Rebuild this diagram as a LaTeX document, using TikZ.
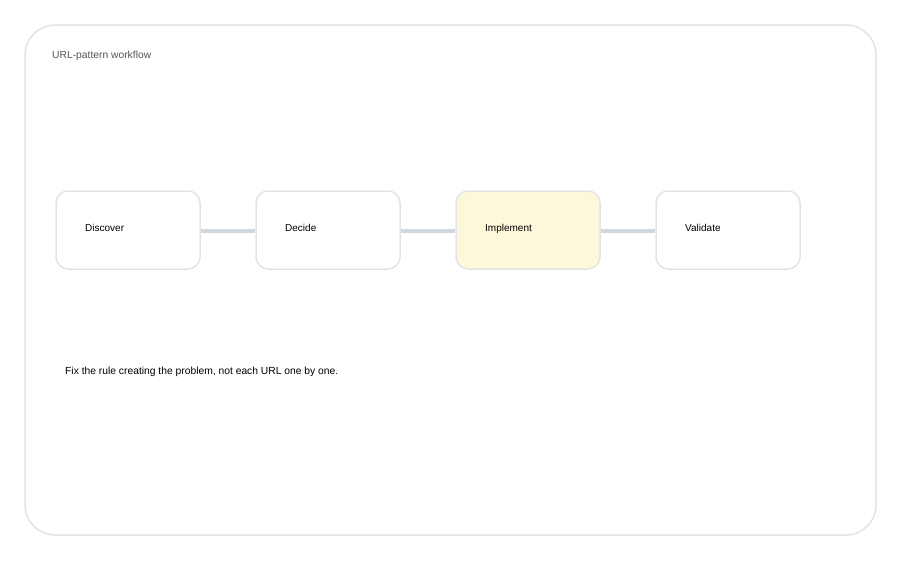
\documentclass[tikz,border=0pt]{standalone}
\usepackage{fontspec}
\setmainfont{Liberation Sans}
\definecolor{frameline}{HTML}{E2E4E6}
\definecolor{boxline}{HTML}{E2E5E8}
\definecolor{conn}{HTML}{CFD8E0}
\definecolor{hl}{HTML}{FEF8DA}
\definecolor{titlegray}{HTML}{555555}
\begin{document}
\begin{tikzpicture}[x=1pt,y=-1pt,
  stepbox/.style={draw=boxline, line width=1.5pt, rounded corners=12pt, fill=white,
    minimum width=144pt, minimum height=78pt, inner sep=0pt},
  steplabel/.style={anchor=base west, font=\fontsize{10}{12}\selectfont, text=black, inner sep=0pt},
  connector/.style={draw=conn, line width=4pt}]
\useasboundingbox (0,0) rectangle (900,560);
\fill[white] (0,0) rectangle (900,560);
\draw[frameline, line width=1.5pt, rounded corners=30pt] (25,25) rectangle (876,535);
\node[anchor=base west, inner sep=0pt, font=\fontsize{10.3}{12}\selectfont, text=titlegray] (title) at (52,58) {URL-pattern workflow};
\node[stepbox] (s1) at (128,230) {};
\node[stepbox] (s2) at (328,230) {};
\node[stepbox, fill=hl] (s3) at (528,230) {};
\node[stepbox] (s4) at (728,230) {};
\draw[connector] ([yshift=-1pt]s1.east) -- ([yshift=-1pt]s2.west);
\draw[connector] ([yshift=-1pt]s2.east) -- ([yshift=-1pt]s3.west);
\draw[connector] ([yshift=-1pt]s3.east) -- ([yshift=-1pt]s4.west);
\node[steplabel] (l1) at (85,231.8) {Discover};
\node[steplabel] (l2) at (285,231.8) {Decide};
\node[steplabel] (l3) at (485,231.8) {Implement};
\node[steplabel] (l4) at (685,231.8) {Validate};
\node[anchor=base west, inner sep=0pt, font=\fontsize{10.3}{12}\selectfont] (cap) at (65,374.8) {Fix the rule creating the problem, not each URL one by one.};
\end{tikzpicture}
\end{document}
